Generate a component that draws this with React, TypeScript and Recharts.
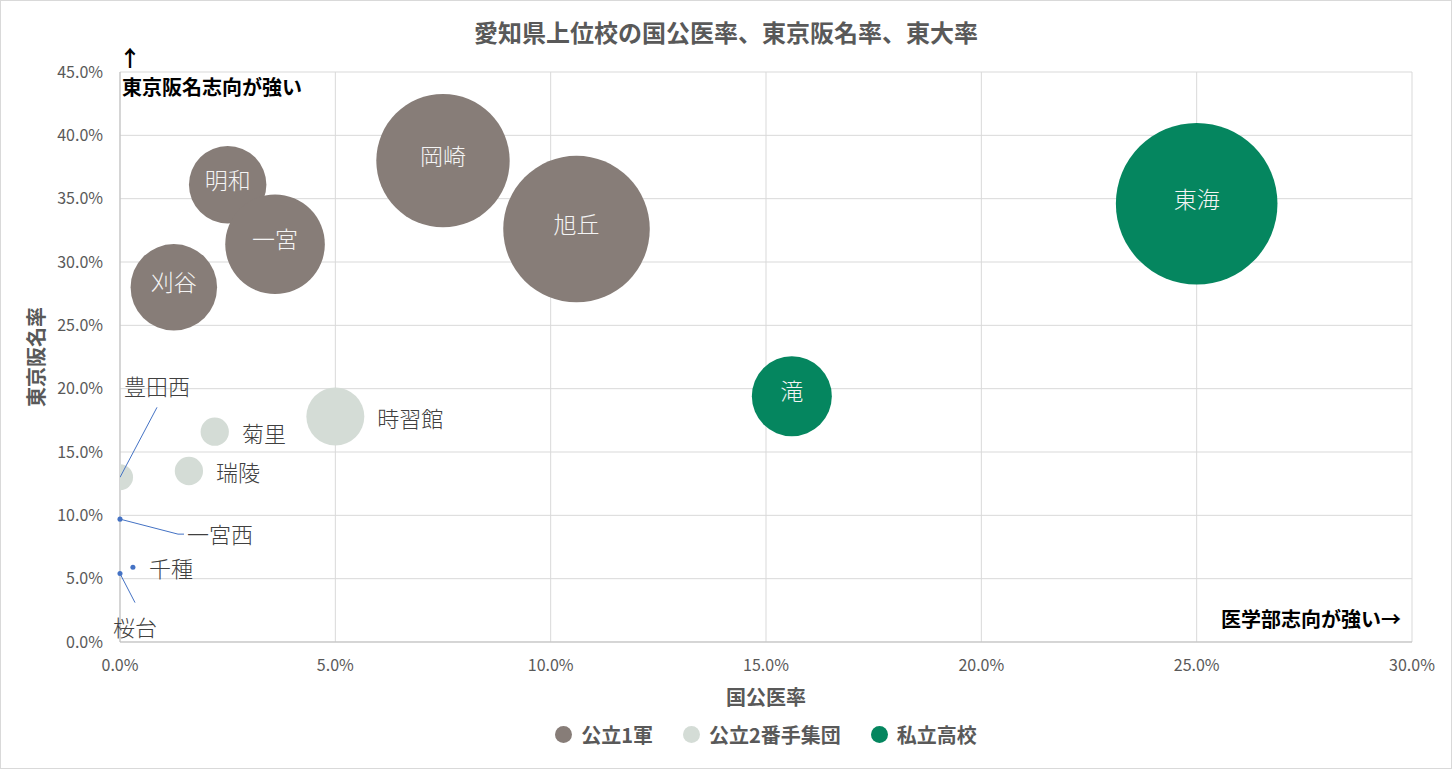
import React from "react";
import {
  CartesianGrid,
  Customized,
  Legend,
  Scatter,
  ScatterChart,
  XAxis,
  YAxis,
  ZAxis,
} from "recharts";

// x = 国公医率 (%), y = 東京阪名率 (%), z = 東大率 (%)
const FIRST_NAMES = ["刈谷", "明和", "一宮", "岡崎", "旭丘"];
const FIRST_MED = [1.25, 2.5, 3.6, 7.5, 10.6];
const FIRST_CITY = [28.0, 36.1, 31.4, 38.0, 32.6];
const FIRST_TODAI = [1.87, 1.5, 2.48, 4.45, 5.37];

const SECOND_NAMES = ["豊田西", "瑞陵", "菊里", "時習館"];
const SECOND_MED = [0.0, 1.6, 2.2, 5.0];
const SECOND_CITY = [13.0, 13.5, 16.6, 17.8];
const SECOND_TODAI = [0.17, 0.2, 0.2, 0.84];

const PRIVATE_NAMES = ["滝", "東海"];
const PRIVATE_MED = [15.6, 25.0];
const PRIVATE_CITY = [19.4, 34.6];
const PRIVATE_TODAI = [1.6, 6.53];

const ZERO_NAMES = ["一宮西", "千種", "桜台"];
const ZERO_MED = [0.0, 0.3, 0.0];
const ZERO_CITY = [9.7, 5.9, 5.4];
const ZERO_TODAI = [0, 0, 0];

const X_TICKS = [0, 5, 10, 15, 20, 25, 30];
const Y_TICKS = [0, 5, 10, 15, 20, 25, 30, 35, 40, 45];

const LEGEND_ITEMS = [
  { label: "公立1軍", color: "#877d78" },
  { label: "公立2番手集団", color: "#d4dcd6" },
  { label: "私立高校", color: "#05865f" },
];

const FONT = '"Noto Sans CJK JP", "Noto Sans", sans-serif';
const GRAY = "#595959";

// label placement for the schools sitting on the axis (leader lines)
const CALLOUTS: Record<string, { dx: number; dy: number; anchor: string; path: number[][] }> = {
  豊田西: { dx: 37, dy: -92, anchor: "middle", path: [[0, 0], [37, -70]] },
  一宮西: { dx: 67, dy: 14, anchor: "start", path: [[0, 0], [58, 15], [64, 15]] },
  千種: { dx: 16, dy: 0, anchor: "start", path: [] },
  桜台: { dx: 15, dy: 52, anchor: "middle", path: [[0, 0], [15, 29]] },
};

const toRows = (names: string[], med: number[], city: number[], todai: number[]) =>
  names.map((name, i) => ({ name, med: med[i], city: city[i], todai: todai[i] }));

const firstData = toRows(FIRST_NAMES, FIRST_MED, FIRST_CITY, FIRST_TODAI);
const secondData = toRows(SECOND_NAMES, SECOND_MED, SECOND_CITY, SECOND_TODAI);
const privateData = toRows(PRIVATE_NAMES, PRIVATE_MED, PRIVATE_CITY, PRIVATE_TODAI);
const zeroData = toRows(ZERO_NAMES, ZERO_MED, ZERO_CITY, ZERO_TODAI);

const pct = (v: number) => `${v.toFixed(1)}%`;

function Callout({ cx, cy, name }: { cx: number; cy: number; name: string }) {
  const c = CALLOUTS[name];
  return (
    <g>
      {c.path.length > 1 && (
        <polyline
          points={c.path.map(([px, py]) => `${cx + px},${cy + py}`).join(" ")}
          fill="none"
          stroke="#4472c4"
          strokeWidth={1}
        />
      )}
      <text
        x={cx + c.dx}
        y={cy + c.dy}
        textAnchor={c.anchor as any}
        dominantBaseline="central"
        fontSize={22}
        fontWeight={300}
        fill="#404040"
        fontFamily={FONT}
      >
        {name}
      </text>
    </g>
  );
}

const makeShape = (kind: "inside" | "right" | "dot") => (props: any) => {
  const { cx, cy, size, fill, payload } = props;
  const r = Math.sqrt(Math.max(size ?? 0, 0) / Math.PI);
  const name: string = payload.name;
  return (
    <g>
      <circle cx={cx} cy={cy} r={r} fill={fill} />
      {kind === "inside" && (
        <text
          x={cx}
          y={cy - 6}
          textAnchor="middle"
          dominantBaseline="central"
          fontSize={23}
          fontWeight={300}
          fill="#f4f4f4"
          fontFamily={FONT}
        >
          {name}
        </text>
      )}
      {kind !== "inside" && CALLOUTS[name] && <Callout cx={cx} cy={cy} name={name} />}
      {kind === "right" && !CALLOUTS[name] && (
        <text
          x={cx + r + 13}
          y={cy}
          dominantBaseline="central"
          fontSize={22}
          fontWeight={300}
          fill="#404040"
          fontFamily={FONT}
        >
          {name}
        </text>
      )}
    </g>
  );
};

function Overlay() {
  return (
    <g fontFamily={FONT} fontWeight={700}>
      <text x={725} y={30} textAnchor="middle" dominantBaseline="central" fontSize={24} fill={GRAY}>
        愛知県上位校の国公医率、東京阪名率、東大率
      </text>
      <text x={129} y={55} textAnchor="middle" dominantBaseline="central" fontSize={22} fill="#000">
        ↑
      </text>
      <text x={121} y={85} dominantBaseline="central" fontSize={20} fill="#000">
        東京阪名志向が強い
      </text>
      <text x={1400} y={617} textAnchor="end" dominantBaseline="central" fontSize={20} fill="#000">
        医学部志向が強い→
      </text>
      <text x={765} y={695} textAnchor="middle" dominantBaseline="central" fontSize={20} fill={GRAY}>
        国公医率
      </text>
      <text
        x={34}
        y={356}
        textAnchor="middle"
        dominantBaseline="central"
        fontSize={20}
        fill={GRAY}
        transform="rotate(-90 34 356)"
      >
        東京阪名率
      </text>
    </g>
  );
}

function LegendContent() {
  return (
    <div
      style={{
        display: "flex",
        justifyContent: "center",
        alignItems: "center",
        height: 35,
        fontFamily: FONT,
        fontWeight: 700,
        fontSize: 20,
        color: GRAY,
      }}
    >
      {LEGEND_ITEMS.map((item, i) => (
        <span
          key={item.label}
          style={{
            display: "flex",
            alignItems: "center",
            marginRight: i < LEGEND_ITEMS.length - 1 ? 30 : 0,
          }}
        >
          <span
            style={{
              width: 17,
              height: 17,
              borderRadius: 9,
              background: item.color,
              marginRight: 9,
            }}
          />
          {item.label}
        </span>
      ))}
    </div>
  );
}

export default function App() {
  return (
    <div
      style={{
        position: "absolute",
        left: 0,
        top: 0,
        width: 1450,
        height: 767,
        border: "1px solid #d9d9d9",
        background: "#fff",
      }}
    >
      <ScatterChart
        width={1450}
        height={767}
        margin={{ top: 71, right: 39, bottom: 16, left: 19 }}
        style={{ fontFamily: FONT }}
      >
        <CartesianGrid stroke="#d9d9d9" />
        <XAxis
          type="number"
          dataKey="med"
          domain={[0, 30]}
          ticks={X_TICKS}
          allowDataOverflow
          tickFormatter={pct}
          height={75}
          tickSize={0}
          tickMargin={18}
          tick={{ fontSize: 16, fill: GRAY }}
          axisLine={{ stroke: "#bfbfbf" }}
        />
        <XAxis xAxisId="free" type="number" dataKey="med" domain={[0, 30]} hide />
        <YAxis
          type="number"
          dataKey="city"
          domain={[0, 45]}
          ticks={Y_TICKS}
          tickFormatter={pct}
          width={100}
          tickSize={0}
          tickMargin={17}
          tick={{ fontSize: 16, fill: GRAY }}
          axisLine={{ stroke: "#bfbfbf" }}
        />
        <ZAxis type="number" dataKey="todai" domain={[0, 6.53]} range={[0, 20510]} />
        <ZAxis zAxisId="dot" type="number" dataKey="todai" range={[20, 20]} />
        <Legend
          verticalAlign="bottom"
          height={35}
          content={<LegendContent />}
          wrapperStyle={{ left: 119, width: 1292 }}
        />
        <Scatter
          name="公立1軍"
          data={firstData}
          fill="#877d78"
          shape={makeShape("inside")}
          isAnimationActive={false}
        />
        <Scatter
          name="公立2番手集団"
          data={secondData}
          fill="#d4dcd6"
          shape={makeShape("right")}
          isAnimationActive={false}
        />
        <Scatter
          name="私立高校"
          data={privateData}
          fill="#05865f"
          shape={makeShape("inside")}
          isAnimationActive={false}
        />
        <Scatter
          name="0"
          data={zeroData}
          xAxisId="free"
          zAxisId="dot"
          fill="#4472c4"
          legendType="none"
          shape={makeShape("dot")}
          isAnimationActive={false}
        />
        <Customized component={<Overlay />} />
      </ScatterChart>
    </div>
  );
}
